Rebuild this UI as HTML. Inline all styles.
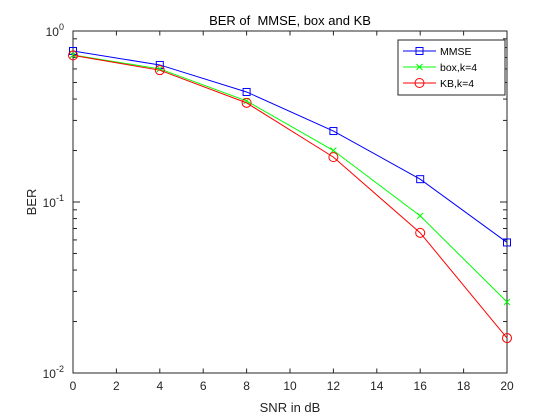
<!DOCTYPE html>
<html><head><meta charset="utf-8"><style>
body{margin:0;background:#fff;}
svg{display:block;font-family:"Liberation Sans",Arial,sans-serif;}
</style></head><body>
<svg id="chart" width="560" height="420">
<rect width="560" height="420" fill="#fff"/>
<g id="plot"></g>
</svg>
<script>
const snr=[0,4,8,12,16,20];
const mmse=[0.764,0.633,0.44,0.26,0.136,0.058];
const box=[0.724,0.60,0.39,0.20,0.083,0.026];
const kb=[0.72,0.59,0.38,0.183,0.066,0.016];
const xTicks=[0,2,4,6,8,10,12,14,16,18,20];
const yDecades=[-2,-1,0];
const L=73,R=507,T=31,B=373;
const NS='http://www.w3.org/2000/svg';
const g=document.getElementById('plot');
const X=v=>L+(v-0)/(20-0)*(R-L);
const Y=v=>B-(Math.log10(v)+2)/2*(B-T);
function el(t,a,p){const e=document.createElementNS(NS,t);for(const k in a)e.setAttribute(k,a[k]);(p||g).appendChild(e);return e;}
const ax=el('rect',{x:L,y:T,width:R-L,height:B-T,fill:'#fff',stroke:'#262626','stroke-width':1});


xTicks.forEach(v=>{
 const x=X(v);
 el('line',{x1:x,y1:B,x2:x,y2:B-4.5,stroke:'#262626'});
 el('line',{x1:x,y1:T,x2:x,y2:T+4.5,stroke:'#262626'});
 const t=el('text',{x:x,y:B+17,'text-anchor':'middle','font-size':12,fill:'#262626'});
 t.textContent=v;
 
 
});
yDecades.forEach(d=>{
 const y=Y(Math.pow(10,d));
 el('line',{x1:L,y1:y,x2:L+7,y2:y,stroke:'#262626'});
 el('line',{x1:R,y1:y,x2:R-7,y2:y,stroke:'#262626'});
 const t=el('text',{x:L-9,y:y+5,'text-anchor':'end','font-size':12,fill:'#262626'});
 t.innerHTML='10<tspan dy="-6" font-size="9">'+d+'</tspan>';
 
 
 if(d<0){for(let m=2;m<=9;m++){const yy=Y(m*Math.pow(10,d));
  el('line',{x1:L,y1:yy,x2:L+4,y2:yy,stroke:'#262626'});
  el('line',{x1:R,y1:yy,x2:R-4,y2:yy,stroke:'#262626'});}}
});
const series=[[mmse,'#0000ff','square','mmse-line'],[box,'#00ff00','x','box-line'],[kb,'#ff0000','circle','kb-line']];
function marker(x,y,type,c,parent){
 if(type==='square')el('rect',{x:x-3.5,y:y-3.5,width:7,height:7,fill:'none',stroke:c},parent);
 else if(type==='circle')el('circle',{cx:x,cy:y,r:4.5,fill:'none',stroke:c},parent);
 else{el('line',{x1:x-3,y1:y-3,x2:x+3,y2:y+3,stroke:c},parent);el('line',{x1:x-3,y1:y+3,x2:x+3,y2:y-3,stroke:c},parent);}
}
series.forEach(([d,c,m,n])=>{
 const gg=el('g',{});
 
 
 el('polyline',{points:d.map((v,i)=>X(snr[i])+','+Y(v)).join(' '),fill:'none',stroke:c,'stroke-width':1},gg);
 d.forEach((v,i)=>marker(X(snr[i]),Y(v),m,c,gg));
});
const lg=el('g',{});


el('rect',{x:398,y:40,width:107,height:55,fill:'#fff',stroke:'#262626'},lg);
const names=['MMSE','box,k=4','KB,k=4'];
series.forEach(([d,c,m],i)=>{
 const y=51+i*16;
 el('line',{x1:403,y1:y,x2:436,y2:y,stroke:c},lg);
 marker(419.5,y,m,c,lg);
 const t=el('text',{x:440,y:y+4,'font-size':10.5,fill:'#000'},lg);
 t.textContent=names[i];
 
 
});
const tt=el('text',{x:290,y:25,'text-anchor':'middle','font-size':13,fill:'#000'});
tt.textContent='BER of\u00a0 MMSE, box and KB';


const xt=el('text',{x:290,y:412,'text-anchor':'middle','font-size':13,fill:'#262626'});
xt.textContent='SNR in dB';


const yt=el('text',{x:0,y:0,'text-anchor':'middle','font-size':13,fill:'#262626',transform:'translate(36,202) rotate(-90)'});
yt.textContent='BER';


</script>
</body></html>
